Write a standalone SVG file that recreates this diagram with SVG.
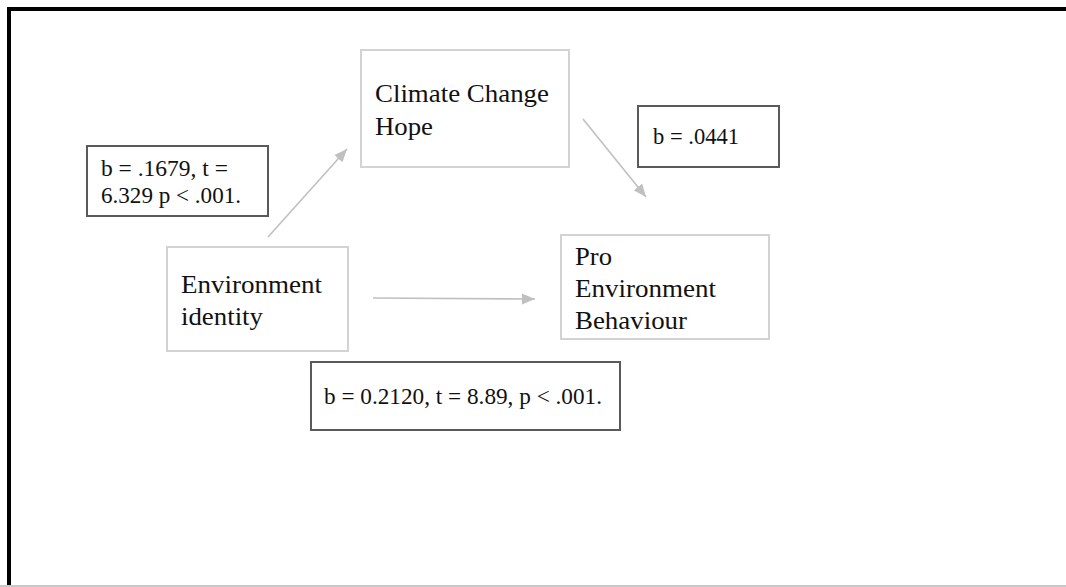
<svg xmlns="http://www.w3.org/2000/svg" width="1066" height="587" viewBox="0 0 1066 587">
<style>
.node{fill:#fff;stroke:#d3d3d3;stroke-width:2}
.lbl{fill:#fff;stroke:#5a5a5a;stroke-width:2}
.t{font-family:"Liberation Serif","Times New Roman",serif;font-size:23px;fill:#111}
.n{font-size:24.5px}
.conn{stroke:#c0c0c0;stroke-width:1.6;fill:none}
</style>
<defs>
<marker id="ah" markerUnits="userSpaceOnUse" markerWidth="14" markerHeight="12" refX="13" refY="5.5" orient="auto">
<path d="M0,0 L13,5.5 L0,11 Z" fill="#c0c0c0"/>
</marker>
</defs>
<rect x="0" y="0" width="1066" height="587" fill="#fff"/>
<g id="frame">
<line x1="7" y1="9" x2="1066" y2="9" stroke="#000" stroke-width="4"/>
<line x1="9" y1="7" x2="9" y2="585" stroke="#000" stroke-width="4"/>
<line x1="0" y1="586" x2="1066" y2="586" stroke="#c8c8c8" stroke-width="2"/>
</g>
<g id="connectors">
<line class="conn" x1="268" y1="237" x2="347" y2="149" marker-end="url(#ah)"/>
<line class="conn" x1="583" y1="119" x2="646" y2="197" marker-end="url(#ah)"/>
<line class="conn" x1="373" y1="298" x2="535" y2="299" marker-end="url(#ah)"/>
</g>
<g id="node-hope">
<rect class="node" x="361" y="50" width="208" height="117"/>
<text class="t n" x="375" y="102" textLength="174" lengthAdjust="spacingAndGlyphs">Climate Change</text>
<text class="t n" x="375" y="135" textLength="58" lengthAdjust="spacingAndGlyphs">Hope</text>
</g>
<g id="node-identity">
<rect class="node" x="167" y="247" width="181" height="104"/>
<text class="t n" x="181" y="293" textLength="141" lengthAdjust="spacingAndGlyphs">Environment</text>
<text class="t n" x="181" y="325" textLength="82" lengthAdjust="spacingAndGlyphs">identity</text>
</g>
<g id="node-behaviour">
<rect class="node" x="561" y="235" width="208" height="104"/>
<text class="t n" x="575" y="265" textLength="37" lengthAdjust="spacingAndGlyphs">Pro</text>
<text class="t n" x="575" y="297" textLength="141" lengthAdjust="spacingAndGlyphs">Environment</text>
<text class="t n" x="575" y="329" textLength="112" lengthAdjust="spacingAndGlyphs">Behaviour</text>
</g>
<g id="label-a">
<rect class="lbl" x="87" y="146" width="181" height="70"/>
<text class="t" x="101" y="176" textLength="127" lengthAdjust="spacingAndGlyphs">b = .1679, t =</text>
<text class="t" x="101" y="203" textLength="140" lengthAdjust="spacingAndGlyphs">6.329 p &lt; .001.</text>
</g>
<g id="label-b">
<rect class="lbl" x="638" y="106" width="141" height="61"/>
<text class="t" x="653" y="144" textLength="86" lengthAdjust="spacingAndGlyphs">b = .0441</text>
</g>
<g id="label-c">
<rect class="lbl" x="311" y="362" width="309" height="68"/>
<text class="t" x="324" y="404" textLength="278" lengthAdjust="spacingAndGlyphs">b = 0.2120, t = 8.89, p &lt; .001.</text>
</g>
</svg>
